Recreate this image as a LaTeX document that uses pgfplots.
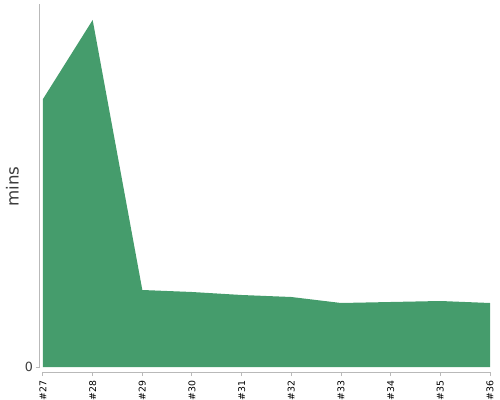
\documentclass[border=0pt]{standalone}
\usepackage{fontspec}
\setmainfont{DejaVu Sans}
\usepackage{pgfplots}
\pgfplotsset{compat=1.18}
\definecolor{areagreen}{RGB}{69,156,108}
\definecolor{axisgray}{RGB}{185,185,185}
\definecolor{labelgray}{RGB}{60,60,60}
\begin{document}
\begin{tikzpicture}
\begin{axis}[
    scale only axis,
    width=335.25pt, height=276pt,
    xmin=0, xmax=9, ymin=-5, ymax=363,
    axis x line*=bottom, axis y line*=left,
    x axis line style={-, draw=axisgray, line width=0.75pt},
    y axis line style={-, draw=axisgray, line width=0.75pt, xshift=-2.5pt, shorten <=3.75pt},
    xtick={0,...,9},
    xticklabels={\#27,\#28,\#29,\#30,\#31,\#32,\#33,\#34,\#35,\#36},
    x tick style={draw=axisgray, line width=0.75pt},
    xtick align=outside,
    major tick length=3pt,
    xticklabel style={rotate=90, anchor=east, font=\fontsize{7}{8}\selectfont, text=black},
    ytick={0},
    y tick style={draw=axisgray, line width=0.75pt, xshift=-2.5pt},
    ytick align=outside,
    yticklabel style={font=\fontsize{9.5}{10}\selectfont, text=labelgray, xshift=-1pt},
    /pgf/number format/assume math mode=true,
    ylabel={mins},
    every axis y label/.style={at={(rel axis cs:0,0.5)}, xshift=-23pt, yshift=1pt, rotate=90, anchor=center,
        font=\fontsize{12.5}{14}\selectfont, text=labelgray},
    clip=false,
]
\addplot[fill=areagreen, draw=none] coordinates {
    (0,0) (0,268) (1,347) (2,77) (3,75) (4,72) (5,70) (6,64) (7,65) (8,66) (9,64) (9,0)
} -- cycle;
\draw[axisgray, line width=0.75pt] (rel axis cs:0,0) -- (rel axis cs:1,0);
\end{axis}
\pgfresetboundingbox
\path ([xshift=-32.25pt, yshift=-21pt]current axis.south west) rectangle ([xshift=7.5pt, yshift=3pt]current axis.north east);
\end{tikzpicture}
\end{document}
